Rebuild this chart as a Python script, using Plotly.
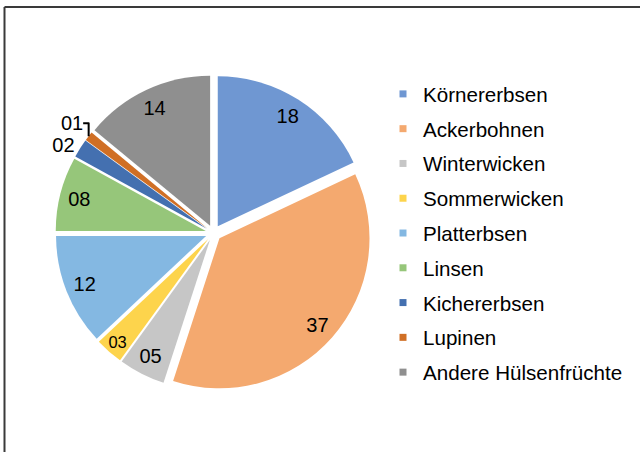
import plotly.graph_objects as go

# Anteil der Hülsenfrüchte (in %)
kulturen = ['Körnererbsen', 'Ackerbohnen', 'Winterwicken', 'Sommerwicken', 'Platterbsen',
            'Linsen', 'Kichererbsen', 'Lupinen', 'Andere Hülsenfrüchte']
anteile = [18, 37, 5, 3, 12, 8, 2, 1, 14]
farben = ['#6f97d2', '#f4a96f', '#c6c6c6', '#fdd44c', '#84b8e2',
          '#96c67a', '#4470b0', '#d06f25', '#8f8f8f']
# where each value label goes: rim ring, wider ring (for the thin slice) or outside
text_pos = ['inside', 'inside', 'inside', 'none', 'inside',
            'inside', 'outside', 'outside', 'inside']
text_pos_wide = ['none', 'none', 'none', 'inside', 'none',
                 'none', 'none', 'none', 'none']

W, H = 640, 452
pie_domain = dict(x=[55.5 / W, 371.5 / W], y=[1 - 391 / H, 1 - 75 / H])
FONT = 'Liberation Sans, Arial'
labels_txt = [f'{v:02d}' for v in anteile]

fig = go.Figure()

# the pie itself
fig.add_trace(go.Pie(
    labels=kulturen,
    values=anteile,
    textinfo='none',
    sort=False,
    direction='clockwise',
    pull=0.053,
    marker=dict(colors=farben, line=dict(width=0)),
    domain=pie_domain,
    showlegend=False,
    hoverinfo='skip',
))

# transparent rings on top, only to put the value labels near the rim like Excel does
for hole, pos in [(0.74, text_pos), (0.5, text_pos_wide)]:
    fig.add_trace(go.Pie(
        labels=kulturen,
        values=anteile,
        text=labels_txt,
        textinfo='text',
        textposition=pos,
        insidetextorientation='horizontal',
        textfont=dict(family=FONT, size=20, color='#000000'),
        hole=hole,
        sort=False,
        direction='clockwise',
        pull=0.053,
        marker=dict(colors=['rgba(0,0,0,0)'] * len(anteile), line=dict(width=0)),
        domain=pie_domain,
        showlegend=False,
        hoverinfo='skip',
    ))

# legend entries (one group per entry to get Excel-like spacing)
for name, col in zip(kulturen, farben):
    fig.add_trace(go.Scatter(
        x=[None], y=[None], mode='markers', name=name,
        legendgroup=name,
        marker=dict(symbol='square', size=7, color=col),
    ))

fig.update_layout(
    width=W, height=H,
    margin=dict(l=0, r=0, t=0, b=0),
    paper_bgcolor='white',
    plot_bgcolor='white',
    font=dict(family=FONT, size=20.6, color='#000000'),
    xaxis=dict(visible=False),
    yaxis=dict(visible=False),
    legend=dict(
        x=383 / W, xanchor='left',
        y=1 - 74 / H, yanchor='top',
        tracegroupgap=5,
        bgcolor='rgba(0,0,0,0)',
        font=dict(size=20.6),
    ),
    shapes=[
        dict(type='line', xref='paper', yref='paper',
             x0=4.5 / W, x1=1, y0=1 - 7 / H, y1=1 - 7 / H,
             line=dict(color='#3a3a3a', width=2)),
        dict(type='line', xref='paper', yref='paper',
             x0=4.5 / W, x1=4.5 / W, y0=0, y1=1 - 7 / H,
             line=dict(color='#3a3a3a', width=2)),
    ],
)

fig.write_html('out.html', config={'displayModeBar': False},
               post_script="document.body.style.margin='0';")
